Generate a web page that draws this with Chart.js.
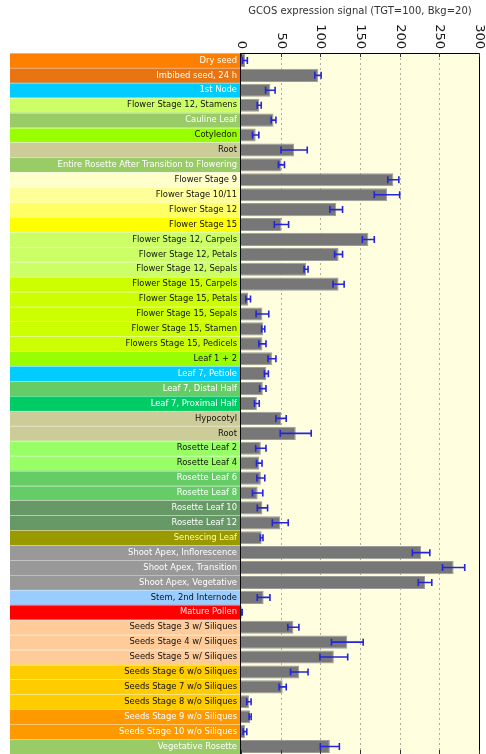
<!DOCTYPE html>
<html>
<head>
<meta charset="utf-8">
<script src="https://cdn.jsdelivr.net/npm/chart.js@4/dist/chart.umd.min.js"></script>
<style>
  html, body { margin: 0; padding: 0; background: #ffffff; }
  canvas { display: block; }
</style>
</head>
<body>
<canvas id="chart" width="486" height="754"></canvas>
<script>
// Tissue / developmental-stage samples, top to bottom
const categories = [
  "Dry seed", "Imbibed seed, 24 h", "1st Node", "Flower Stage 12, Stamens", "Cauline Leaf",
  "Cotyledon", "Root", "Entire Rosette After Transition to Flowering", "Flower Stage 9",
  "Flower Stage 10/11", "Flower Stage 12", "Flower Stage 15", "Flower Stage 12, Carpels",
  "Flower Stage 12, Petals", "Flower Stage 12, Sepals", "Flower Stage 15, Carpels",
  "Flower Stage 15, Petals", "Flower Stage 15, Sepals", "Flower Stage 15, Stamen",
  "Flowers Stage 15, Pedicels", "Leaf 1 + 2", "Leaf 7, Petiole", "Leaf 7, Distal Half",
  "Leaf 7, Proximal Half", "Hypocotyl", "Root", "Rosette Leaf 2", "Rosette Leaf 4",
  "Rosette Leaf 6", "Rosette Leaf 8", "Rosette Leaf 10", "Rosette Leaf 12", "Senescing Leaf",
  "Shoot Apex, Inflorescence", "Shoot Apex, Transition", "Shoot Apex, Vegetative",
  "Stem, 2nd Internode", "Mature Pollen", "Seeds Stage 3 w/ Siliques", "Seeds Stage 4 w/ Siliques",
  "Seeds Stage 5 w/ Siliques", "Seeds Stage 6 w/o Siliques", "Seeds Stage 7 w/o Siliques",
  "Seeds Stage 8 w/o Siliques", "Seeds Stage 9 w/o Siliques", "Seeds Stage 10 w/o Siliques",
  "Vegetative Rosette"
];

// Mean expression signal per sample
const signal = [
  5, 97, 37, 23, 41, 18.5, 67, 51, 192, 184,
  120, 51, 160.5, 123, 82, 123, 9, 27, 28, 27,
  39, 32, 27.5, 20, 50.5, 69, 25, 23, 25, 21,
  27, 49.5, 26, 227, 268, 232, 28.5, 1, 66, 134,
  117, 73.5, 52.5, 10, 11.5, 5, 112
];

// Standard deviation per sample
const deviation = [
  3, 4, 6, 2.5, 3, 4, 16.5, 3.8, 7, 16,
  8, 9, 7.5, 5, 2.5, 7, 3, 8, 2, 4.5,
  5, 2.5, 4, 3, 6.5, 19.5, 6.5, 3.5, 5, 6.5,
  6.5, 10, 1.7, 11, 14, 8.5, 8, 0.5, 7, 20,
  17.5, 11, 4.5, 2.7, 1.3, 2.3, 12
];

// Value axis ticks
const tickValues = [0, 50, 100, 150, 200, 250, 300];
const axisTitle = "GCOS expression signal (TGT=100, Bkg=20)";

// Tissue-group colour of each label cell, and its text colour
const cellColors = [
  "#FF7F00", "#E87511", "#00CCFF", "#CCFF66", "#99CC66",
  "#99FF00", "#CCCC99", "#99CC66", "#FFFFCC", "#FFFF99",
  "#FFFF66", "#FFFF00", "#CCFF66", "#CCFF66", "#CCFF66",
  "#CCFF00", "#CCFF00", "#CCFF00", "#CCFF00", "#CCFF00",
  "#99FF00", "#00CCFF", "#66CC66", "#00CC66", "#CCCC99",
  "#CCCC99", "#99FF66", "#99FF66", "#66CC66", "#66CC66",
  "#669966", "#669966", "#999900", "#999999", "#999999",
  "#999999", "#99CCFF", "#FF0000", "#FFCC99", "#FFCC99",
  "#FFCC99", "#FFCC00", "#FFCC00", "#FFCC00", "#FF9900",
  "#FF9900", "#99CC66"
];
const W = "#FFFFFF", K = "#111111";
const textColors = [
  W, W, W, K, W,
  K, K, W, K, K,
  K, K, K, K, K,
  K, K, K, K, K,
  K, W, W, W, K,
  K, K, K, W, W,
  W, W, "#FFFF99", W, W,
  W, K, "#FFDDDD", K, K,
  K, K, K, K, W,
  W, W
];

const LABEL_LEFT = 10;

// Coloured label cells behind the category names, plus the plot background
const backgroundPlugin = {
  id: "cells",
  beforeDraw(chart) {
    const { ctx, chartArea } = chart;
    const y = chart.scales.y;
    const half = (y.getPixelForValue(1) - y.getPixelForValue(0)) / 2;
    ctx.save();
    ctx.fillStyle = "#FFFFE0";
    ctx.fillRect(chartArea.left, chartArea.top, chartArea.right - chartArea.left, chartArea.bottom - chartArea.top);
    categories.forEach((c, i) => {
      const yc = y.getPixelForValue(i);
      ctx.fillStyle = cellColors[i];
      ctx.fillRect(LABEL_LEFT, yc - half, chartArea.left - LABEL_LEFT, half * 2);
      ctx.fillStyle = "rgba(255,255,255,0.35)";
      ctx.fillRect(LABEL_LEFT, Math.round(yc - half), chartArea.left - LABEL_LEFT, 1);
    });
    ctx.restore();
  },
  beforeDatasetsDraw(chart) {
    // dotted vertical grid lines
    const { ctx, chartArea } = chart;
    const x = chart.scales.x;
    ctx.save();
    ctx.strokeStyle = "rgba(110,110,100,0.55)";
    ctx.lineWidth = 1;
    ctx.setLineDash([2, 3]);
    tickValues.slice(1, -1).forEach(v => {
      const px = Math.round(x.getPixelForValue(v)) + 0.5;
      ctx.beginPath();
      ctx.moveTo(px, chartArea.top);
      ctx.lineTo(px, chartArea.bottom);
      ctx.stroke();
    });
    ctx.restore();
  },
  afterDatasetsDraw(chart) {
    const { ctx, chartArea } = chart;
    const x = chart.scales.x, y = chart.scales.y;
    ctx.save();
    // error bars
    ctx.strokeStyle = "#2424D8";
    ctx.lineWidth = 1.6;
    signal.forEach((v, i) => {
      const yc = y.getPixelForValue(i);
      const x1 = x.getPixelForValue(Math.max(0, v - deviation[i]));
      const x2 = x.getPixelForValue(v + deviation[i]);
      ctx.beginPath();
      ctx.moveTo(x1, yc); ctx.lineTo(x2, yc);
      ctx.moveTo(x1, yc - 3.5); ctx.lineTo(x1, yc + 3.5);
      ctx.moveTo(x2, yc - 3.5); ctx.lineTo(x2, yc + 3.5);
      ctx.stroke();
    });
    // frame
    ctx.strokeStyle = "#000000";
    ctx.lineWidth = 1;
    ctx.strokeRect(Math.round(chartArea.left) - 0.5, Math.round(chartArea.top) + 0.5,
      Math.round(chartArea.right - chartArea.left) + 1, Math.round(chartArea.bottom - chartArea.top));
    // inward tick marks, top and bottom
    ctx.strokeStyle = "#333333";
    tickValues.forEach(v => {
      const px = Math.round(x.getPixelForValue(v)) + 0.5;
      ctx.beginPath();
      ctx.moveTo(px, chartArea.top); ctx.lineTo(px, chartArea.top + 4);
      ctx.moveTo(px, chartArea.bottom); ctx.lineTo(px, chartArea.bottom - 4);
      ctx.stroke();
    });
    // rotated tick labels on the value axis
    ctx.fillStyle = "#1a1a1a";
    ctx.font = "13px 'DejaVu Sans'";
    ctx.textAlign = "right";
    ctx.textBaseline = "middle";
    x.ticks.forEach(t => {
      const px = x.getPixelForValue(t.value);
      ctx.save();
      ctx.translate(px + 0.5, chartArea.top - 4);
      ctx.rotate(Math.PI / 2);
      ctx.fillText(String(t.value), 0, 0);
      ctx.restore();
    });
    ctx.restore();
  }
};

new Chart(document.getElementById("chart"), {
  type: "bar",
  data: {
    labels: categories,
    datasets: [{
      data: signal,
      backgroundColor: "#777777",
      borderColor: "#9c9c9c",
      borderWidth: 1,
      barPercentage: 0.88,
      categoryPercentage: 1
    }]
  },
  options: {
    indexAxis: "y",
    responsive: false,
    animation: false,
    layout: { padding: { left: 0, right: 7, top: 0, bottom: 0 } },
    plugins: { legend: { display: false }, tooltip: { enabled: false } },
    scales: {
      x: {
        position: "top",
        min: 0,
        max: 300,
        ticks: { stepSize: 50, display: false },
        grid: { display: false, drawTicks: false },
        border: { display: false },
        title: {
          display: true,
          text: axisTitle,
          color: "#333333",
          font: { family: "DejaVu Sans", size: 10 },
          padding: { top: 5, bottom: 0 }
        },
        afterFit(scale) {
          scale.height = 53;
          scale.paddingLeft = 0;
          scale.paddingRight = 0;
        }
      },
      y: {
        ticks: {
          autoSkip: false,
          padding: 4,
          color: (c) => textColors[c.index],
          font: { family: "DejaVu Sans", size: 8.4 }
        },
        grid: { display: false, drawTicks: false },
        border: { display: false },
        afterFit(scale) {
          scale.width = 241;
          scale.paddingTop = 0;
          scale.paddingBottom = 0;
        }
      }
    }
  },
  plugins: [backgroundPlugin]
});
</script>
</body>
</html>
